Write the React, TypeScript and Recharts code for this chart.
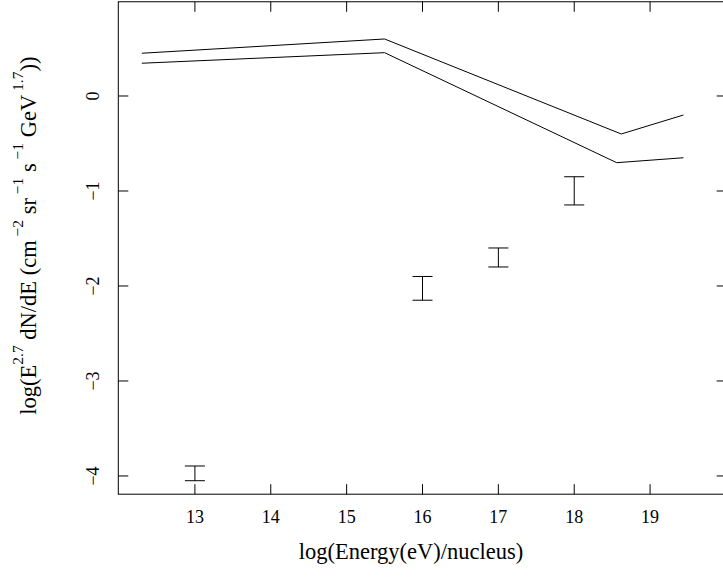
import React from "react";
import { ComposedChart, Line, Scatter, ErrorBar, XAxis, YAxis } from "recharts";

// ---- data ----
const upperX = [12.3, 15.5, 18.62, 19.44];
const upperY = [0.45, 0.6, -0.4, -0.2];
const lowerX = [12.3, 15.5, 18.56, 19.44];
const lowerY = [0.345, 0.456, -0.702, -0.65];

const measX = [13, 16, 17, 18];
const measHigh = [-3.895, -1.9, -1.6, -0.85];
const measLow = [-4.05, -2.15, -1.8, -1.147];

const xTicks = [13, 14, 15, 16, 17, 18, 19];
const yTicks = [-4, -3, -2, -1, 0];

const upperData = upperX.map((x, i) => ({ x, y: upperY[i] }));
const lowerData = lowerX.map((x, i) => ({ x, y: lowerY[i] }));
const measData = measX.map((x, i) => ({
  x,
  y: (measHigh[i] + measLow[i]) / 2,
  err: (measHigh[i] - measLow[i]) / 2,
}));

const FONT = "'Liberation Serif', 'Times New Roman', serif";
const TICK_FS = 18;
const TICK_LEN = 10;
const W = 745;
const H = 578;
const PLOT_LEFT = 118.3;
const PLOT_TOP = 1.76;
const PLOT_BOTTOM = 494.2;
const PLOT_RIGHT = 726.7;
const fmt = (v: number) => (v < 0 ? "\u2212" + Math.abs(v) : String(v));

const BottomTick = (p: any) => (
  <g>
    <line x1={p.x} y1={PLOT_BOTTOM} x2={p.x} y2={PLOT_BOTTOM - TICK_LEN} stroke="#000" strokeWidth={1} />
    <text x={p.x} y={PLOT_BOTTOM + 29} textAnchor="middle" fontSize={TICK_FS} fontFamily={FONT} fill="#000">
      {fmt(p.payload.value)}
    </text>
  </g>
);
const TopTick = (p: any) => (
  <line x1={p.x} y1={PLOT_TOP} x2={p.x} y2={PLOT_TOP + TICK_LEN} stroke="#000" strokeWidth={1} />
);
const LeftTick = (p: any) => {
  const tx = PLOT_LEFT - 19;
  return (
    <g>
      <line x1={PLOT_LEFT} y1={p.y} x2={PLOT_LEFT + TICK_LEN} y2={p.y} stroke="#000" strokeWidth={1} />
      <text
        x={tx}
        y={p.y}
        transform={`rotate(-90, ${tx}, ${p.y})`}
        textAnchor="middle"
        fontSize={TICK_FS}
        fontFamily={FONT}
        fill="#000"
      >
        {fmt(p.payload.value)}
      </text>
    </g>
  );
};
const RightTick = (p: any) => (
  <line x1={PLOT_RIGHT} y1={p.y} x2={PLOT_RIGHT - TICK_LEN} y2={p.y} stroke="#000" strokeWidth={1} />
);

const NoShape = () => null;

export default function App() {
  return (
    <div
      style={{
        position: "fixed",
        left: 0,
        top: 0,
        width: 723,
        height: 578,
        overflow: "hidden",
        background: "#fff",
      }}
    >
      <div style={{ position: "relative", width: W, height: H }}>
        <ComposedChart
          width={W}
          height={H}
          margin={{ top: PLOT_TOP - 1, right: W - PLOT_RIGHT - 1, bottom: 0, left: 0 }}
        >
          <XAxis
            xAxisId="b"
            type="number"
            dataKey="x"
            domain={[11.99, 20.01]}
            ticks={xTicks}
            allowDataOverflow
            height={H - PLOT_BOTTOM}
            tickSize={0}
            tickMargin={0}
            tickLine={false}
            axisLine={false}
            tick={BottomTick}
            interval={0}
          />
          <XAxis
            xAxisId="t"
            orientation="top"
            type="number"
            dataKey="x"
            domain={[11.99, 20.01]}
            ticks={xTicks}
            allowDataOverflow
            height={1}
            tickSize={0}
            tickMargin={0}
            tickLine={false}
            axisLine={false}
            tick={TopTick}
            interval={0}
          />
          <YAxis
            yAxisId="l"
            type="number"
            domain={[-4.192, 0.992]}
            ticks={yTicks}
            allowDataOverflow
            width={PLOT_LEFT}
            tickSize={0}
            tickMargin={0}
            tickLine={false}
            axisLine={false}
            tick={LeftTick}
            interval={0}
          />
          <YAxis
            yAxisId="r"
            orientation="right"
            type="number"
            domain={[-4.192, 0.992]}
            ticks={yTicks}
            allowDataOverflow
            width={1}
            tickSize={0}
            tickMargin={0}
            tickLine={false}
            axisLine={false}
            tick={RightTick}
            interval={0}
          />
          <Line
            xAxisId="b"
            yAxisId="l"
            data={upperData}
            dataKey="y"
            type="linear"
            stroke="#000"
            strokeWidth={1}
            dot={false}
            activeDot={false}
            isAnimationActive={false}
          />
          <Line
            xAxisId="b"
            yAxisId="l"
            data={lowerData}
            dataKey="y"
            type="linear"
            stroke="#000"
            strokeWidth={1}
            dot={false}
            activeDot={false}
            isAnimationActive={false}
          />
          <Scatter
            xAxisId="b"
            yAxisId="l"
            data={measData}
            dataKey="y"
            shape={NoShape}
            isAnimationActive={false}
          >
            <ErrorBar dataKey="err" direction="y" width={10} stroke="#000" strokeWidth={1} isAnimationActive={false} />
          </Scatter>
        </ComposedChart>
        <svg
          width={W}
          height={H}
          style={{ position: "absolute", left: 0, top: 0, pointerEvents: "none" }}
        >
          <rect
            x={PLOT_LEFT}
            y={PLOT_TOP}
            width={PLOT_RIGHT - PLOT_LEFT}
            height={PLOT_BOTTOM - PLOT_TOP}
            fill="none"
            stroke="#000"
            strokeWidth={1}
          />
          <text x={411} y={559} textAnchor="middle" fontSize={22.5} fontFamily={FONT} fill="#000">
            log(Energy(eV)/nucleus)
          </text>
          <text
            x={36}
            y={235.6}
            transform={`rotate(-90, 36, 235.6)`}
            textAnchor="middle"
            fontSize={22.5}
            fontFamily={FONT}
            fill="#000"
          >
            log(E
            <tspan fontSize={15.5} dy={-13}>2.7</tspan>
            <tspan dy={13}>{" dN/dE (cm"}</tspan>
            <tspan fontSize={15.5} dy={-13}>{" \u22122"}</tspan>
            <tspan dy={13}>{" sr"}</tspan>
            <tspan fontSize={15.5} dy={-13}>{" \u22121"}</tspan>
            <tspan dy={13}>{" s"}</tspan>
            <tspan fontSize={15.5} dy={-13}>{" \u22121"}</tspan>
            <tspan dy={13}>{" GeV"}</tspan>
            <tspan fontSize={15.5} dy={-13}>{" 1.7"}</tspan>
            <tspan dy={13}>{"))"}</tspan>
          </text>
        </svg>
      </div>
    </div>
  );
}
